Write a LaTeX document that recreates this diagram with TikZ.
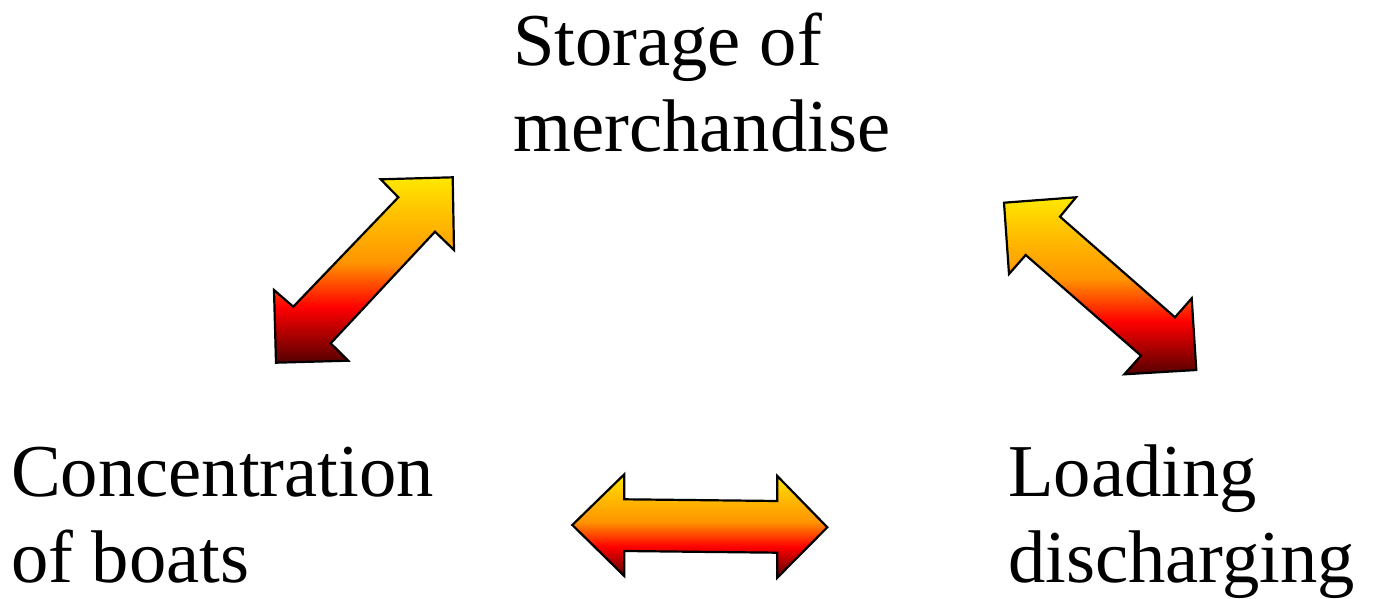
\documentclass[tikz,border=0pt]{standalone}
\usepackage{fontspec}
\setmainfont{Liberation Serif}
\definecolor{fyel}{HTML}{FFE800}
\definecolor{fgold}{HTML}{FFC000}
\definecolor{forg}{HTML}{FF9400}
\definecolor{fred}{HTML}{FF0000}
\definecolor{fdrk}{HTML}{550000}
\pgfdeclareverticalshading{fire}{100bp}{color(0bp)=(fdrk); color(25bp)=(fdrk); color(40bp)=(fred); color(52bp)=(forg); color(65bp)=(fgold); color(75bp)=(fyel); color(100bp)=(fyel)}
\begin{document}
\begin{tikzpicture}[x=1pt,y=-1pt,
  blockarrow/.style={draw=black, line width=2.2pt, line join=miter, shade, shading=fire},
  lbl/.style={font=\fontsize{74.6}{86}\selectfont, align=left, inner sep=0pt, anchor=base west}]
\useasboundingbox (0,0) rectangle (1374,599);
% labels (anchored at the baseline of the last line)
\node[lbl] (storage) at (513,152) {Storage of\\merchandise};
\node[lbl] (boats) at (11,582) {Concentration\\of boats};
\node[lbl] (loading) at (1008,582) {Loading\\discharging};
% left diagonal double arrow
\path[blockarrow] (452.7,177.3) -- (380.7,179.3) -- (398.3,197.3) -- (293.3,306.7) -- (274,290) -- (276,362.7) -- (348.3,360.7) -- (330.7,343.3) -- (435,231.7) -- (454,250) -- cycle;
% right diagonal double arrow
\path[blockarrow] (1004,202.7) -- (1076,197.3) -- (1060,216.7) -- (1175,317.3) -- (1191.7,298.3) -- (1196.3,370) -- (1124.3,374.3) -- (1141,355.7) -- (1025.7,255) -- (1009,274) -- cycle;
% horizontal double arrow
\path[blockarrow] (572.3,525) -- (624.3,474.3) -- (624.3,499.3) -- (777.3,501) -- (777.3,476) -- (827.3,527.3) -- (777.3,577.7) -- (777.3,552.7) -- (624.3,551) -- (624.3,576) -- cycle;
\end{tikzpicture}
\end{document}
